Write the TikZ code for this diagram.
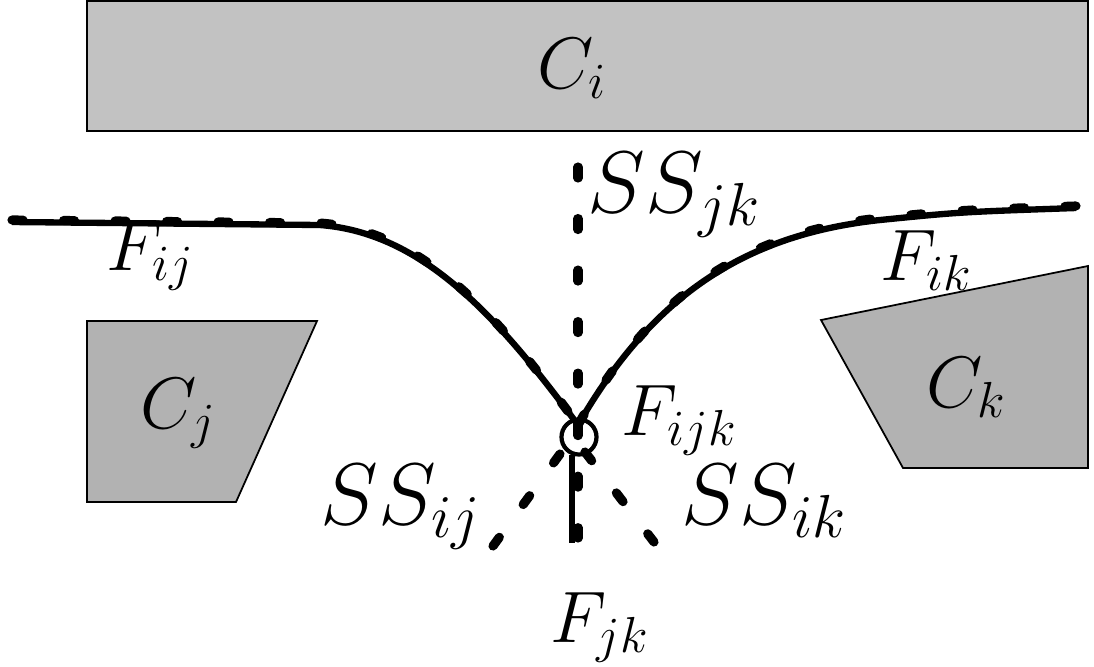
\documentclass[tikz,border=0pt]{standalone}
\usepackage{tikz}
\definecolor{boxlight}{gray}{0.76}
\definecolor{boxdark}{gray}{0.70}
\begin{document}
\begin{tikzpicture}[x=0.01cm,y=-0.01cm,
  lbl/.style={font=\fontsize{19.5}{23}\selectfont, inner sep=0pt, anchor=base west},
  biglbl/.style={font=\fontsize{25}{29}\selectfont, inner sep=0pt, anchor=base west},
  cell/.style={draw=black, line width=0.5pt},
  solidline/.style={line width=1.8pt},
  dashline/.style={line width=2.6pt, line cap=round, dash pattern=on 3.13pt off 11.52pt}]
\useasboundingbox (0,0) rectangle (1094,666);
% cells
\draw[cell, fill=boxlight] (87,1) rectangle (1088,131);
\draw[cell, fill=boxdark] (87,321) -- (317,321) -- (236,502) -- (87,502) -- cycle;
\draw[cell, fill=boxdark] (821,320) -- (1088,266) -- (1088,468) -- (903,468) -- cycle;
\node[lbl] (ci) at (537,88) {$C_i$};
\node[lbl] (cj) at (140,428) {$C_j$};
\node[lbl] (ck) at (926,407) {$C_k$};
% vertex
\coordinate (v) at (579,437);
\coordinate (vtop) at (578,425);
\node[draw, circle, line width=1.2pt, minimum size=0.35cm, inner sep=0pt] (circ) at (v) {};
% solid curves
\draw[solidline] (12,222) -- (320,225) .. controls (425,233) and (500,320) .. (vtop);
\draw[solidline] (vtop) .. controls (650,300) and (740,235) .. (880,220) .. controls (960,212) .. (1076,208);
\coordinate (jktop) at (572,455);
\coordinate (jkbot) at (572,543);
\draw[solidline] (jktop) -- (jkbot);
% dashed curves
\begin{scope}[yshift=0.02cm]
\draw[dashline] (12,222) -- (320,225) .. controls (425,233) and (500,320) .. (vtop);
\draw[dashline] (1076,208) .. controls (960,212) .. (880,220) .. controls (740,235) and (650,300) .. (vtop);
\end{scope}
\coordinate (ssjktop) at (578,167);
\coordinate (ssjkbot) at (578,538);
\draw[dashline] (ssjktop) -- (ssjkbot);
\coordinate (ssija) at (560,454);
\coordinate (ssijb) at (493,546);
\draw[dashline] (ssija) -- (ssijb);
\coordinate (ssika) at (585,452);
\coordinate (ssikb) at (654,542);
\draw[dashline] (ssika) -- (ssikb);
% labels
\node[biglbl] (ssjk) at (587,212) {$SS_{jk}$};
\node[lbl] (fij) at (106,270) {$F_{ij}$};
\node[lbl] (fik) at (880,280) {$F_{ik}$};
\node[lbl] (fijk) at (621,435) {$F_{ijk}$};
\node[biglbl] (ssij) at (320,524) {$SS_{ij}$};
\node[biglbl] (ssik) at (681,524) {$SS_{ik}$};
\node[lbl] (fjk) at (550,642) {$F_{jk}$};
\end{tikzpicture}
\end{document}
